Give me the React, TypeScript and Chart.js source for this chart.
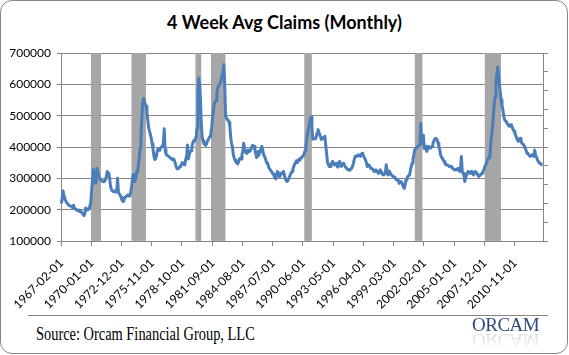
import React, { useEffect, useRef } from "react";
import { Chart, registerables } from "chart.js";

Chart.register(...registerables);

// First month of the series and tick-label interval (months)
const START_YEAR = 1967;
const START_MONTH = 2;
const LABEL_EVERY = 35;

// 4-week average initial claims, monthly (one row per year)
const claims1960s = [
  220000, 240000, 260000, 240000, 232000, 228000, 222000, 220000, 216000, 213000, 212000,
  212000, 210000, 206000, 214000, 205000, 203000, 200000, 198000, 197000, 199000, 194000, 196000,
  192000, 189000, 186000, 181000, 186000, 205000, 198000, 201000, 200000, 206000, 212000, 225000,
];
const claims1970s = [
  262000, 295000, 328000, 305000, 285000, 295000, 332000, 322000, 308000, 300000, 296000, 294000,
  292000, 290000, 289000, 291000, 296000, 306000, 322000, 316000, 312000, 296000, 272000, 264000,
  260000, 258000, 257000, 260000, 256000, 258000, 300000, 256000, 250000, 246000, 240000, 232000,
  227000, 226000, 237000, 240000, 242000, 245000, 248000, 246000, 243000, 252000, 268000, 292000,
  312000, 302000, 290000, 300000, 322000, 318000, 340000, 362000, 395000, 428000, 485000, 540000,
  555000, 545000, 538000, 530000, 510000, 485000, 462000, 450000, 440000, 428000, 410000, 395000,
  372000, 360000, 362000, 372000, 388000, 394000, 390000, 393000, 398000, 400000, 404000, 412000,
  458000, 392000, 378000, 374000, 372000, 370000, 368000, 366000, 363000, 360000, 362000, 362000,
  355000, 346000, 336000, 330000, 332000, 334000, 336000, 338000, 346000, 350000, 346000, 343000,
  348000, 362000, 372000, 406000, 362000, 375000, 385000, 388000, 400000, 412000, 420000, 418000,
];
const claims1980s = [
  425000, 432000, 460000, 572000, 620000, 600000, 550000, 468000, 430000, 420000, 410000, 412000,
  405000, 410000, 418000, 423000, 430000, 434000, 445000, 462000, 495000, 515000, 538000, 545000,
  548000, 570000, 590000, 596000, 598000, 605000, 615000, 630000, 645000, 663000, 600000, 500000,
  492000, 488000, 486000, 480000, 465000, 430000, 410000, 400000, 375000, 365000, 358000, 352000,
  350000, 346000, 352000, 362000, 364000, 362000, 375000, 388000, 412000, 395000, 385000, 380000,
  380000, 390000, 388000, 386000, 390000, 398000, 405000, 404000, 402000, 390000, 378000, 366000,
  385000, 372000, 378000, 390000, 385000, 402000, 390000, 375000, 372000, 363000, 355000, 348000,
  345000, 335000, 330000, 326000, 322000, 318000, 314000, 310000, 302000, 298000, 308000, 322000,
  318000, 306000, 312000, 316000, 314000, 318000, 322000, 312000, 300000, 294000, 290000, 292000,
  298000, 305000, 312000, 318000, 322000, 330000, 338000, 346000, 350000, 356000, 350000, 358000,
];
const claims1990s = [
  362000, 358000, 364000, 366000, 370000, 372000, 378000, 388000, 405000, 425000, 442000, 460000,
  474000, 488000, 496000, 462000, 425000, 428000, 428000, 426000, 432000, 445000, 456000, 448000,
  440000, 432000, 424000, 426000, 430000, 428000, 434000, 405000, 378000, 352000, 344000, 338000,
  338000, 344000, 350000, 354000, 346000, 343000, 346000, 348000, 340000, 336000, 346000, 354000,
  345000, 338000, 344000, 348000, 344000, 340000, 336000, 332000, 330000, 327000, 326000, 328000,
  330000, 332000, 338000, 348000, 360000, 370000, 372000, 370000, 372000, 375000, 372000, 370000,
  376000, 380000, 374000, 370000, 364000, 359000, 350000, 338000, 340000, 343000, 338000, 332000,
  332000, 330000, 326000, 322000, 324000, 327000, 324000, 320000, 316000, 318000, 327000, 320000,
  316000, 312000, 311000, 314000, 316000, 343000, 325000, 311000, 314000, 322000, 314000, 311000,
  308000, 306000, 306000, 304000, 298000, 295000, 296000, 294000, 284000, 288000, 290000, 286000,
];
const claims2000s = [
  279000, 272000, 268000, 282000, 295000, 300000, 306000, 308000, 311000, 325000, 338000, 348000,
  359000, 375000, 391000, 394000, 396000, 400000, 402000, 406000, 412000, 476000, 410000, 425000,
  438000, 395000, 400000, 402000, 386000, 395000, 402000, 398000, 396000, 398000, 402000, 410000,
  418000, 424000, 428000, 426000, 423000, 412000, 402000, 390000, 375000, 368000, 364000, 358000,
  354000, 348000, 343000, 344000, 343000, 340000, 338000, 338000, 338000, 334000, 332000, 330000,
  327000, 328000, 327000, 330000, 332000, 326000, 322000, 326000, 370000, 322000, 316000, 310000,
  290000, 304000, 311000, 318000, 322000, 318000, 316000, 320000, 322000, 316000, 311000, 318000,
  322000, 318000, 316000, 310000, 306000, 308000, 311000, 314000, 316000, 322000, 327000, 336000,
  343000, 348000, 356000, 364000, 366000, 372000, 410000, 438000, 462000, 497000, 535000, 560000,
  600000, 632000, 655000, 630000, 600000, 575000, 551000, 535000, 519000, 500000, 487000, 484000,
];
const claims2010s = [
  481000, 475000, 471000, 468000, 466000, 470000, 471000, 462000, 455000, 450000, 444000, 436000,
  428000, 422000, 418000, 424000, 428000, 420000, 412000, 410000, 407000, 402000, 396000, 388000,
  380000, 378000, 375000, 372000, 370000, 374000, 375000, 372000, 370000, 390000, 372000, 368000,
  360000, 354000, 350000, 348000, 346000, 343000, 342000,
];

// Recession months (first and last month shaded)
const recessionStarts = ["1970-01", "1973-12", "1980-02", "1981-08", "1990-08", "2001-04", "2008-01"];
const recessionEnds = ["1970-11", "1975-03", "1980-07", "1982-11", "1991-03", "2001-11", "2009-06"];

// Y-axis range
const Y_MIN = 100000;
const Y_MAX = 700000;
const Y_STEP = 100000;

const claims = [...claims1960s, ...claims1970s, ...claims1980s, ...claims1990s, ...claims2000s, ...claims2010s];

const months: string[] = claims.map((_, i) => {
  const m0 = START_MONTH - 1 + i;
  const y = START_YEAR + Math.floor(m0 / 12);
  const m = (m0 % 12) + 1;
  return `${y}-${String(m).padStart(2, "0")}`;
});
const labels = months.map((m) => `${m}-01`);
const recession = months.map((m) =>
  recessionStarts.some((s, k) => m >= s && m <= recessionEnds[k]) ? 1 : null
);

const GRID = "#868686";
const FONT = "Lato, 'Open Sans', sans-serif";

export default function App() {
  const ref = useRef<HTMLCanvasElement | null>(null);

  useEffect(() => {
    if (!ref.current) return;
    const chart = new Chart(ref.current, {
      type: "bar",
      data: {
        labels,
        datasets: [
          {
            type: "line",
            label: "4 Week Avg Claims",
            data: claims,
            yAxisID: "y",
            borderColor: "#4A7EBB",
            borderWidth: 3,
            pointRadius: 0,
            tension: 0,
            borderJoinStyle: "round",
            order: 0,
          } as any,
          {
            type: "bar",
            label: "Recession",
            data: recession,
            yAxisID: "y2",
            backgroundColor: "#A6A6A6",
            barPercentage: 1,
            categoryPercentage: 1,
            borderWidth: 0,
            order: 1,
          } as any,
        ],
      },
      options: {
        animation: false,
        responsive: false,
        devicePixelRatio: 1,
        layout: { padding: { top: 53, left: 0, right: 0, bottom: 0 } },
        plugins: {
          legend: { display: false },
          tooltip: { enabled: false },
          title: { display: false },
        },
        scales: {
          x: {
            type: "category",
            offset: true,
            grid: {
              offset: true,
              drawOnChartArea: false,
              drawTicks: true,
              tickLength: 5,
              color: (ctx: any) =>
                ctx.index % LABEL_EVERY === 0 ? GRID : "rgba(0,0,0,0)",
            },
            border: { color: GRID },
            ticks: {
              autoSkip: false,
              maxRotation: 45,
              minRotation: 45,
              padding: 10,
              color: "#000",
              font: { family: FONT, size: 12 },
              callback: (_v: any, i: number) => (i % LABEL_EVERY === 0 ? labels[i] : ""),
            },
            afterFit: (s: any) => {
              s.height = 79;
            },
          },
          y: {
            position: "left",
            min: Y_MIN,
            max: Y_MAX,
            ticks: {
              stepSize: Y_STEP,
              padding: 6,
              color: "#000",
              font: { family: FONT, size: 12 },
              callback: (v: any) => String(v),
            },
            grid: { color: GRID, tickLength: 4 },
            border: { color: GRID },
            afterFit: (s: any) => {
              s.width = 61;
            },
          },
          y2: {
            position: "right",
            min: 0,
            max: 1,
            ticks: { stepSize: 0.1, callback: () => "" },
            grid: { drawOnChartArea: false, color: GRID, tickLength: 5 },
            border: { color: GRID },
            afterFit: (s: any) => {
              s.width = 26;
            },
          },
        },
      } as any,
    });
    return () => chart.destroy();
  }, []);

  return (
    <div
      style={{
        position: "absolute",
        left: 0,
        top: 0,
        width: 569,
        height: 355,
        background: "#fff",
        overflow: "hidden",
      }}
    >
      <div
        style={{
          position: "absolute",
          left: 0,
          top: 0,
          width: 568,
          height: 354,
          border: `1px solid ${GRID}`,
          borderRadius: 12,
          boxSizing: "border-box",
        }}
      />
      <div
        style={{
          position: "absolute",
          left: 0,
          top: 12,
          width: 569,
          textAlign: "center",
          fontFamily: FONT,
          fontWeight: 700,
          fontSize: 18,
          lineHeight: "20px",
          color: "#000",
        }}
      >
        4 Week Avg Claims (Monthly)
      </div>
      <canvas ref={ref} width={569} height={320} style={{ position: "absolute", left: 0, top: 0 }} />
      <div
        style={{
          position: "absolute",
          left: 28,
          top: 315,
          width: 520,
          height: 1,
          background: GRID,
        }}
      />
      <div
        style={{
          position: "absolute",
          left: 36,
          top: 323,
          fontFamily: "'Liberation Serif', 'DejaVu Serif', serif",
          fontSize: 18,
          lineHeight: "22px",
          color: "#000",
          whiteSpace: "nowrap",
          transform: "scaleX(0.8)",
          transformOrigin: "left top",
        }}
      >
        Source: Orcam Financial Group, LLC
      </div>
      <div
        style={{
          position: "absolute",
          left: 472,
          top: 315,
          fontFamily: "'Liberation Serif', serif",
          fontSize: 19,
          lineHeight: "19px",
          whiteSpace: "nowrap",
          color: "#2F4B7C",
          letterSpacing: -0.5,
        }}
      >
        ORCAM
      </div>
      <div
        style={{
          position: "absolute",
          left: 472,
          top: 331,
          fontFamily: "'Liberation Serif', serif",
          fontSize: 19,
          lineHeight: "19px",
          whiteSpace: "nowrap",
          color: "#2F4B7C",
          letterSpacing: -0.5,
          transform: "scaleY(-1)",
          opacity: 0.25,
          WebkitMaskImage: "linear-gradient(to top, rgba(0,0,0,1), rgba(0,0,0,0))",
          maskImage: "linear-gradient(to top, rgba(0,0,0,1), rgba(0,0,0,0))",
        }}
      >
        ORCAM
      </div>
    </div>
  );
}
